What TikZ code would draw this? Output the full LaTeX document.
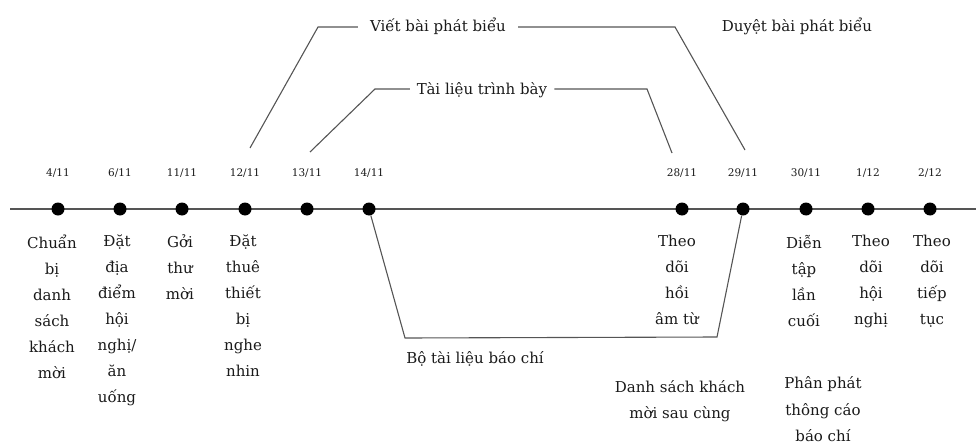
\documentclass[tikz,border=0pt]{standalone}
\usepackage{fontspec}
\setmainfont{DejaVu Serif}
\definecolor{txt}{HTML}{1A1A1A}
\definecolor{linec}{HTML}{555555}
\begin{document}
\begin{tikzpicture}[x=1pt,y=-1pt,
  every node/.style={text=txt},
  dot/.style={circle,fill=black,inner sep=0pt,minimum size=13pt},
  datelbl/.style={font=\fontsize{10.5}{12}\selectfont,anchor=base,inner sep=0pt},
  task/.style={font=\fontsize{15}{25.9}\selectfont,align=center,anchor=north,inner sep=0pt,execute at begin node={\strut}},
  phase/.style={font=\fontsize{15}{25.9}\selectfont,anchor=base,inner ysep=0pt},
  conn/.style={draw=linec,line width=1.1pt},
  axis/.style={draw=linec,line width=2pt}]
\useasboundingbox (0,0) rectangle (976,444);

% timeline
\coordinate (tl) at (10,209);
\coordinate (tr) at (976,209);
\draw[axis] (tl) -- (tr);

% dots
\node[dot] (d1) at (58,209) {};
\node[dot] (d2) at (120,209) {};
\node[dot] (d3) at (182,209) {};
\node[dot] (d4) at (245,209) {};
\node[dot] (d5) at (307,209) {};
\node[dot] (d6) at (369,209) {};
\node[dot] (d7) at (682,209) {};
\node[dot] (d8) at (743,209) {};
\node[dot] (d9) at (806,209) {};
\node[dot] (d10) at (868,209) {};
\node[dot] (d11) at (930,209) {};

% dates
\node[datelbl] (t1) at (58,176) {4/11};
\node[datelbl] (t2) at (120,176) {6/11};
\node[datelbl] (t3) at (182,176) {11/11};
\node[datelbl] (t4) at (245,176) {12/11};
\node[datelbl] (t5) at (307,176) {13/11};
\node[datelbl] (t6) at (369,176) {14/11};
\node[datelbl] (t7) at (682,176) {28/11};
\node[datelbl] (t8) at (743,176) {29/11};
\node[datelbl] (t9) at (806,176) {30/11};
\node[datelbl] (t10) at (868,176) {1/12};
\node[datelbl] (t11) at (930,176) {2/12};

% tasks below
\node[task] (k1) at (52,235) {Chuẩn\\bị\\danh\\sách\\khách\\mời};
\node[task] (k2) at (117,235) {Đặt\\địa\\điểm\\hội\\nghị/\\ăn\\uống};
\node[task] (k3) at (180,235) {Gởi\\thư\\mời};
\node[task] (k4) at (243,235) {Đặt\\thuê\\thiết\\bị\\nghe\\nhin};
\node[task] (k7) at (677,235) {Theo\\dõi\\hồi\\âm từ};
\node[task] (k9) at (804,235) {Diễn\\tập\\lần\\cuối};
\node[task] (k10) at (871,235) {Theo\\dõi\\hội\\nghị};
\node[task] (k11) at (932,235) {Theo\\dõi\\tiếp\\tục};
\node[task] (k12) at (680,380) {Danh sách khách\\mời sau cùng};
\node[task,font=\fontsize{15}{26.8}\selectfont] (k13) at (823,376) {Phân phát\\thông cáo\\báo chí};

% phases
\node[phase,inner xsep=12pt] (viet) at (438,32) {Viết bài phát biểu};
\node[phase,inner xsep=7pt] (tl2) at (482,94) {Tài liệu trình bày};
\node[phase] (duyet) at (797,32) {Duyệt bài phát biểu};
\node[phase] (bo) at (475,363) {Bộ tài liệu báo chí};

% Viet bai phat bieu bracket
\coordinate (va) at (250,148);
\coordinate (vb) at (318,27);
\coordinate (vc) at (675,27);
\coordinate (vd) at (745,150);
\draw[conn] (va) -- (vb) -- (vb -| viet.west);
\draw[conn] (vc -| viet.east) -- (vc) -- (vd);

% Tai lieu trinh bay bracket
\coordinate (ta) at (310,152);
\coordinate (tb) at (375,89);
\coordinate (tc) at (647,89);
\coordinate (td) at (672,153);
\draw[conn] (ta) -- (tb) -- (tb -| tl2.west);
\draw[conn] (tc -| tl2.east) -- (tc) -- (td);

% Bo tai lieu bao chi bracket
\coordinate (ba) at (405,338);
\coordinate (bb) at (717,337);
\draw[conn] (d6) -- (ba) -- (bb) -- (d8);
\end{tikzpicture}
\end{document}
